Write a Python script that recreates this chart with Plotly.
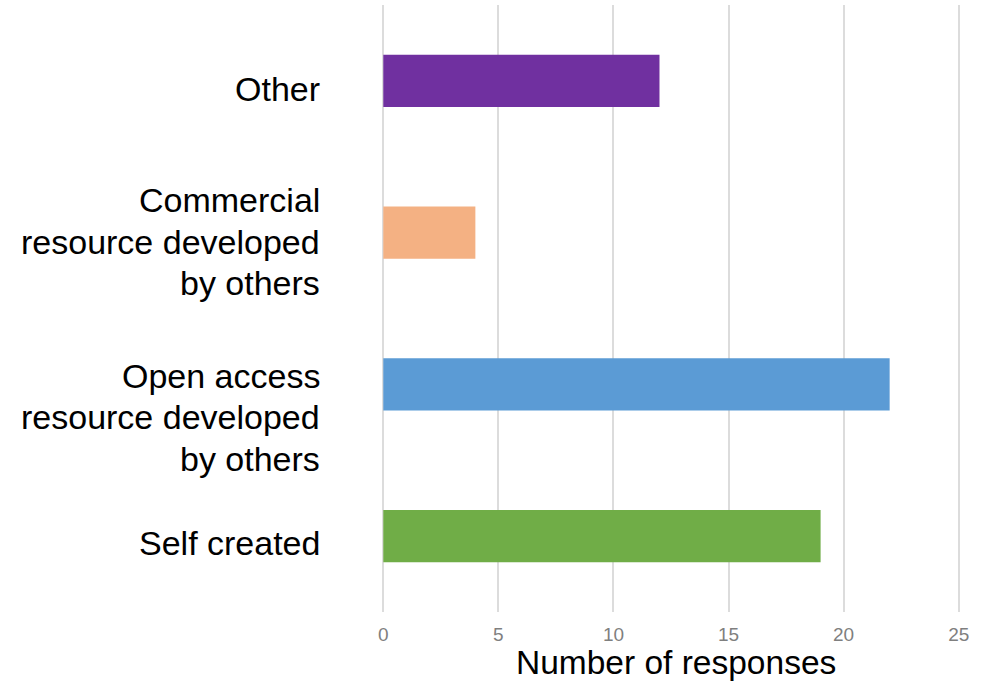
import plotly.graph_objects as go

categories = ["Self created",
              "Open access<br>resource developed<br>by others",
              "Commercial<br>resource developed<br>by others",
              "Other"]
values = [19, 22, 4, 12]
colors = ["#70AD47", "#5B9BD5", "#F4B183", "#7030A0"]
x_ticks = [0, 5, 10, 15, 20, 25]
x_title = "Number of responses"

# label layout (pixel offsets of the label block centre below the bar centre)
label_offsets = [7, 33, 9, 8]
line_gap = 41.5
FONT = "Liberation Sans, Arial, sans-serif"

fig = go.Figure(go.Bar(
    y=categories, x=values, orientation="h",
    marker=dict(color=colors, line=dict(width=0)),
    width=0.345,
))

annotations = []
for cat, off in zip(categories, label_offsets):
    lines = cat.split("<br>")
    n = len(lines)
    for j, line in enumerate(lines):
        dy = off + (j - (n - 1) / 2) * line_gap
        annotations.append(dict(
            xref="paper", yref="y", x=0, y=cat, text=line,
            xanchor="right", yanchor="middle", showarrow=False,
            xshift=-59, yshift=-dy,
            font=dict(size=34, color="black", family=FONT),
        ))

annotations.append(dict(
    xref="paper", yref="paper", x=0.5, y=0, text=x_title,
    xanchor="center", yanchor="middle", showarrow=False,
    xshift=5, yshift=-50, borderpad=0,
    font=dict(size=33.5, color="black", family=FONT),
))

fig.update_layout(
    width=986, height=683,
    margin=dict(l=381, r=25, t=5, b=71),
    plot_bgcolor="white", paper_bgcolor="white",
    font=dict(family=FONT, color="black"),
    showlegend=False,
    annotations=annotations,
)
fig.update_xaxes(
    range=[-0.1, 25.1], tickvals=x_ticks,
    showgrid=True, gridcolor="#dcdcdc", gridwidth=1.5,
    zeroline=False, showline=False,
    tickfont=dict(size=19, color="#7f7f7f"),
    ticks="outside", ticklen=0, ticklabelstandoff=5,
)
fig.update_yaxes(
    showgrid=False, zeroline=False, showline=False,
    showticklabels=False,
    range=[-0.5, 3.5],
)

fig.write_html("out.html")
